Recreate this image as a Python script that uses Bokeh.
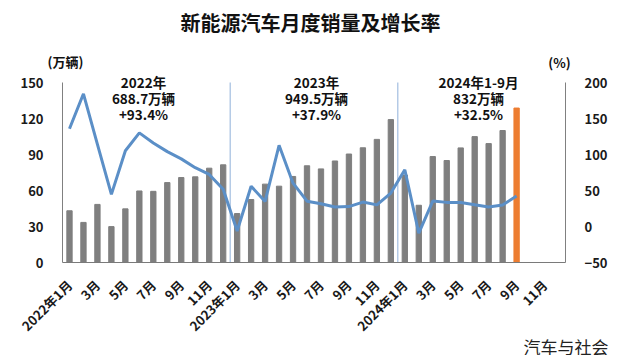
import math
from bokeh.plotting import figure
from bokeh.layouts import column
from bokeh.models import (Range1d, LinearAxis, FixedTicker, Label, Title,
                          ColumnDataSource)
from bokeh.embed import file_html
from bokeh.resources import INLINE

# ---------------- data ----------------
sales_2022 = [43.1, 33.4, 48.4, 29.9, 44.7, 59.6, 59.3, 66.6, 70.8, 71.4, 78.6, 81.4]
sales_2023 = [40.8, 52.5, 65.3, 63.6, 71.7, 80.6, 78.0, 84.6, 90.4, 95.6, 102.6, 119.1]
sales_2024 = [72.9, 47.7, 88.3, 85.0, 95.5, 104.9, 99.1, 110.0, 128.7]

growth_2022 = [135.8, 184.3, 114.0, 44.6, 105.2, 130.0, 116.1, 104.0, 93.9, 81.7, 72.3, 51.8]
growth_2023 = [-6.3, 55.9, 34.8, 112.8, 60.2, 35.2, 31.6, 27.0, 27.7, 33.9, 30.0, 46.4]
growth_2024 = [78.8, -9.2, 35.3, 33.5, 33.3, 30.1, 27.0, 30.0, 42.3]

tick_labels = ["2022年1月", "3月", "5月", "7月", "9月", "11月",
               "2023年1月", "3月", "5月", "7月", "9月", "11月",
               "2024年1月", "3月", "5月", "7月", "9月", "11月"]

year_notes = [("2022年", "688.7万辆", "+93.4%"),
              ("2023年", "949.5万辆", "+37.9%"),
              ("2024年1-9月", "832万辆", "+32.5%")]

# ---------------- build ----------------
sales = sales_2022 + sales_2023 + sales_2024
growth = growth_2022 + growth_2023 + growth_2024
n = len(sales)
idx = list(range(n))
colors = ["#7f7f7f"] * (n - 1) + ["#ed7d31"]
src = ColumnDataSource(dict(x=idx, sales=sales, growth=growth, color=colors))

FONT = "Noto Sans CJK SC"
W = 619
HEAD = 72          # header strip height
FRAME_TOP = 82     # y pixel of value 150 / 200
FRAME_BOT = 262    # y pixel of value 0 / -50
PX_PER_L = (FRAME_BOT - FRAME_TOP) / 150.0
PX_PER_R = (FRAME_BOT - FRAME_TOP) / 250.0

# ---------- header (title + unit labels) ----------
h = figure(width=W, height=HEAD, output_backend="svg", toolbar_location=None,
           x_range=Range1d(0, W), y_range=Range1d(0, HEAD),
           x_axis_location=None, y_axis_location=None, min_border=0)
h.frame_align = False
h.grid.visible = False
h.outline_line_color = None
h.background_fill_color = "white"
h.border_fill_color = "white"

def hlab(text, px, py, size, align="center"):
    h.add_layout(Label(x=px, y=HEAD - py, text=text, text_font=FONT,
                       text_font_size=size, text_font_style="bold",
                       text_align=align, text_baseline="middle",
                       text_color="#111111"))

hlab("新能源汽车月度销量及增长率", 310, 22, "20px")
hlab("(万辆)", 65, 61, "13px")
hlab("(%)", 559, 62, "13px")

# ---------- main chart ----------
main_h = 355 - HEAD
frame_px = FRAME_BOT - HEAD
p = figure(width=W, height=main_h, output_backend="svg", toolbar_location=None,
           x_range=Range1d(-0.5, 35.5),
           y_range=Range1d(0, frame_px / PX_PER_L),
           min_border_left=62, min_border_right=54, min_border_top=0,
           min_border_bottom=355 - FRAME_BOT)
p.frame_align = False
p.outline_line_color = None
p.xgrid.grid_line_color = None
p.ygrid.grid_line_color = None
p.background_fill_color = "white"
p.border_fill_color = "white"

p.extra_y_ranges = {"pct": Range1d(-50, -50 + frame_px / PX_PER_R)}
right_axis = LinearAxis(y_range_name="pct")
p.add_layout(right_axis, "right")

# year separators
sep_x = [len(sales_2022) - 0.5, len(sales_2022) + len(sales_2023) - 0.5]
p.segment(x0=sep_x, y0=[0, 0], x1=sep_x, y1=[150, 150],
          line_color="#8fb1da", line_width=1)

p.vbar(x="x", top="sales", width=0.38, color="color", source=src)
p.line(x="x", y="growth", y_range_name="pct", source=src,
       line_width=3, line_color="#5b8fc7")

for ax in (p.yaxis[0], right_axis):
    ax.major_tick_line_color = None
    ax.minor_tick_line_color = None
    ax.axis_line_color = "#808080"
    ax.major_label_text_font = FONT
    ax.major_label_text_font_style = "bold"
    ax.major_label_text_font_size = "13px"
    ax.major_label_text_color = "#1a1a1a"
    ax.major_label_standoff = 13
p.yaxis[0].ticker = FixedTicker(ticks=[0, 30, 60, 90, 120, 150])
p.yaxis[0].bounds = (0, 150)
right_axis.ticker = FixedTicker(ticks=[-50, 0, 50, 100, 150, 200])
right_axis.bounds = (-50, 200)

xa = p.xaxis[0]
xa.ticker = FixedTicker(ticks=list(range(0, 36, 2)))
xa.major_label_overrides = {i * 2: t for i, t in enumerate(tick_labels)}
xa.major_label_orientation = math.pi / 4
xa.major_tick_line_color = None
xa.minor_tick_line_color = None
xa.axis_line_color = "#7a7a7a"
xa.major_label_text_font = FONT
xa.major_label_text_font_style = "bold"
xa.major_label_text_font_size = "13px"
xa.major_label_text_color = "#1a1a1a"
xa.major_label_standoff = 14

def dx(px):
    return -0.5 + (px - 62) / (503 / 36)

def dy(py):
    return (FRAME_BOT - py) / PX_PER_L

centers = [143, 316, 478]
for cx, note in zip(centers, year_notes):
    for k, t in enumerate(note):
        p.add_layout(Label(x=dx(cx), y=dy(81 + k * 16), text=t, text_font=FONT,
                           text_font_size="13.5px", text_font_style="bold",
                           text_align="center", text_baseline="middle",
                           text_color="#111111"))

p.add_layout(Title(text="汽车与社会", align="right", offset=-43, standoff=-29,
                   text_font=FONT, text_font_size="17px",
                   text_font_style="normal", text_color="#222222"), "below")

open("out.html", "w").write(file_html(column(h, p), INLINE))
